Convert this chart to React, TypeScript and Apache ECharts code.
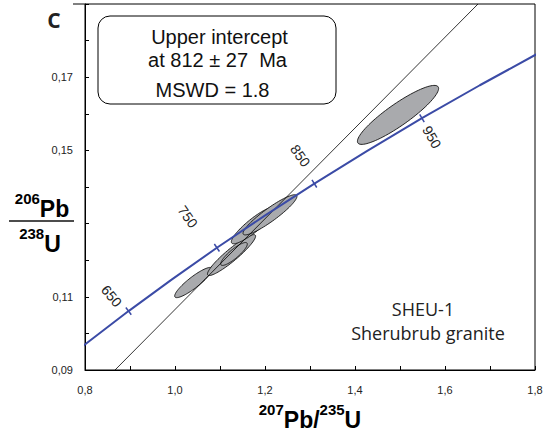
import React, { useEffect, useRef } from 'react';
import * as echarts from 'echarts';

// Concordia curve points (age in Ma, 207Pb/235U, 206Pb/238U)
const CONCORDIA_AGE = [550, 600, 650, 700, 750, 800, 850, 900, 950, 1000, 1050];
const CONCORDIA_X = [0.7189, 0.8056, 0.8968, 0.9925, 1.0931, 1.1987, 1.3097, 1.4263, 1.5488, 1.6774, 1.8126];
const CONCORDIA_Y = [0.0891, 0.0975, 0.1061, 0.1147, 0.1234, 0.1321, 0.1409, 0.1498, 0.1588, 0.1678, 0.1769];

// Age marks along the concordia
const TICK_AGES = [650, 750, 850, 950];
const TICK_LABELS = ['650', '750', '850', '950'];

// Discordia line
const DISCORDIA_X = [0.8667, 1.6733];
const DISCORDIA_Y = [0.09, 0.19];

// Error ellipses: centre, half-extents, correlation
const ELLIPSE_X = [1.0411, 1.1256, 1.1311, 1.1744, 1.2111, 1.4956];
const ELLIPSE_Y = [0.1139, 0.1214, 0.1217, 0.1295, 0.1324, 0.1597];
const ELLIPSE_SX = [0.0418, 0.0535, 0.0296, 0.0492, 0.0599, 0.0902];
const ELLIPSE_SY = [0.00413, 0.00559, 0.00313, 0.00501, 0.00549, 0.00806];
const ELLIPSE_RHO = [0.891, 0.926, 0.866, 0.893, 0.918, 0.895];

// Axis tick labels
const X_LABELS = [0.8, 1.0, 1.2, 1.4, 1.6, 1.8];
const Y_LABELS = [0.09, 0.11, 0.15, 0.17];

// Styles (not data)
const BLUE = '#3b4ba6';
const FONT = '"Liberation Sans", Arial, sans-serif';
const MYRIAD = '"Open Sans", "Noto Sans", sans-serif';
const LABEL_OFFSETS = [[-17, -15], [-29, -31], [-14, -28], [10, 19]];
const LABEL_ROT = [-50, -55, -55, -60];

export default function App() {
  const ref = useRef<HTMLDivElement>(null);

  useEffect(() => {
    if (!ref.current) return;
    const chart = echarts.init(ref.current, null, { renderer: 'svg' });

    const near = (arr: number[], v: number) => arr.some((a) => Math.abs(a - v) < 1e-6);

    const richTitle = {
      s: { fontSize: 15, fontWeight: 'bold', fontFamily: FONT, color: '#111', verticalAlign: 'top' },
      b: { fontSize: 23, fontWeight: 'bold', fontFamily: FONT, color: '#111', lineHeight: 36 },
    };

    const tickPoints = TICK_AGES.map((age) => {
      const ci = CONCORDIA_AGE.indexOf(age);
      return [CONCORDIA_X[ci], CONCORDIA_Y[ci]];
    });

    const option: any = {
      animation: false,
      grid: {
        left: 85,
        right: 13,
        top: 4,
        bottom: 69,
        show: true,
        borderColor: '#000',
        borderWidth: 1,
        backgroundColor: 'transparent',
      },
      xAxis: {
        type: 'value',
        min: 0.8,
        max: 1.8,
        interval: 0.1,
        axisLine: { show: true, lineStyle: { color: '#000', width: 1 } },
        axisTick: { show: true, inside: true, length: 4, lineStyle: { color: '#000' } },
        splitLine: { show: false },
        axisLabel: {
          margin: 14,
          fontSize: 11,
          color: '#222',
          fontFamily: FONT,
          formatter: (v: number) => (near(X_LABELS, v) ? v.toFixed(1).replace('.', ',') : ''),
        },
      },
      yAxis: {
        type: 'value',
        min: 0.09,
        max: 0.19,
        interval: 0.01,
        axisLine: { show: true, lineStyle: { color: '#000', width: 1 } },
        axisTick: { show: true, inside: true, length: 4, lineStyle: { color: '#000' } },
        splitLine: { show: false },
        axisLabel: {
          margin: 12,
          fontSize: 11,
          color: '#222',
          fontFamily: FONT,
          formatter: (v: number) => (near(Y_LABELS, v) ? v.toFixed(2).replace('.', ',') : ''),
        },
      },
      series: [
        {
          type: 'custom',
          name: 'ellipses',
          z: 1,
          data: ELLIPSE_X.map((x, i) => [x, ELLIPSE_Y[i], ELLIPSE_SX[i], ELLIPSE_SY[i], ELLIPSE_RHO[i]]),
          encode: { x: 0, y: 1 },
          renderItem: (params: any, api: any) => {
            const cx = api.value(0);
            const cy = api.value(1);
            const sx = api.value(2);
            const sy = api.value(3);
            const rho = api.value(4);
            const q = Math.sqrt(1 - rho * rho);
            const pts: number[][] = [];
            for (let k = 0; k < 90; k++) {
              const t = (2 * Math.PI * k) / 90;
              const px = cx + sx * Math.cos(t);
              const py = cy + sy * (rho * Math.cos(t) + q * Math.sin(t));
              pts.push(api.coord([px, py]));
            }
            return {
              type: 'polygon',
              shape: { points: pts },
              style: { fill: '#a9aaad', stroke: '#111', lineWidth: 0.9 },
            };
          },
        },
        {
          type: 'line',
          name: 'discordia',
          z: 2,
          data: DISCORDIA_X.map((x, i) => [x, DISCORDIA_Y[i]]),
          symbol: 'none',
          lineStyle: { color: '#000', width: 0.8 },
          clip: true,
        },
        {
          type: 'line',
          name: 'concordia',
          z: 3,
          data: CONCORDIA_X.map((x, i) => [x, CONCORDIA_Y[i]]),
          symbol: 'none',
          smooth: false,
          lineStyle: { color: BLUE, width: 2 },
          clip: true,
        },
        {
          type: 'custom',
          name: 'ages',
          z: 4,
          data: tickPoints,
          encode: { x: 0, y: 1 },
          renderItem: (params: any, api: any) => {
            const idx = params.dataIndex;
            const ci = CONCORDIA_AGE.indexOf(TICK_AGES[idx]);
            const p = api.coord([CONCORDIA_X[ci], CONCORDIA_Y[ci]]);
            const a = api.coord([CONCORDIA_X[ci - 1], CONCORDIA_Y[ci - 1]]);
            const b = api.coord([CONCORDIA_X[ci + 1], CONCORDIA_Y[ci + 1]]);
            let dx = b[0] - a[0];
            let dy = b[1] - a[1];
            const len = Math.hypot(dx, dy);
            dx /= len;
            dy /= len;
            const nx = -dy;
            const ny = dx;
            const h = 4.5;
            const off = LABEL_OFFSETS[idx];
            return {
              type: 'group',
              children: [
                {
                  type: 'line',
                  shape: { x1: p[0] - nx * h, y1: p[1] - ny * h, x2: p[0] + nx * h, y2: p[1] + ny * h },
                  style: { stroke: BLUE, lineWidth: 1.5 },
                },
                {
                  type: 'text',
                  x: p[0] + off[0],
                  y: p[1] + off[1],
                  rotation: (LABEL_ROT[idx] * Math.PI) / 180,
                  style: {
                    text: TICK_LABELS[idx],
                    fontSize: 14,
                    fontFamily: FONT,
                    fill: '#222',
                    align: 'center',
                    verticalAlign: 'middle',
                  },
                },
              ],
            };
          },
        },
      ],
      graphic: [
        {
          type: 'line',
          shape: { x1: 73, y1: 4, x2: 85, y2: 4 },
          style: { stroke: '#000', lineWidth: 1 },
        },
        {
          type: 'text',
          x: 54,
          y: 20,
          style: {
            text: 'C',
            fontSize: 21,
            fontWeight: 'bold',
            fontFamily: MYRIAD,
            fill: '#222',
            align: 'center',
            verticalAlign: 'middle',
          },
        },
        {
          type: 'rect',
          shape: { x: 98, y: 16, width: 238, height: 88, r: 12 },
          style: { fill: '#fff', stroke: '#000', lineWidth: 1 },
          z: 10,
        },
        ...[
          ['Upper intercept', 219.5, 37],
          ['at 812 \u00b1 27  Ma', 217.5, 60],
          ['MSWD = 1.8', 212.5, 90],
        ].map(([t, x, y]) => ({
          type: 'text',
          x,
          y,
          z: 11,
          style: {
            text: t,
            fontSize: 20,
            fontFamily: FONT,
            fill: '#111',
            align: 'center',
            verticalAlign: 'middle',
          },
        })),
        ...[
          ['SHEU-1', 423, 309],
          ['Sherubrub granite', 428, 333],
        ].map(([t, x, y]) => ({
          type: 'text',
          x,
          y,
          style: {
            text: t,
            fontSize: 18,
            fontFamily: MYRIAD,
            fill: '#222',
            align: 'center',
            verticalAlign: 'middle',
          },
        })),
        // Y axis title (fraction)
        {
          type: 'text',
          x: 42,
          y: 209,
          style: {
            text: '{s|206}{b|Pb}',
            rich: richTitle,
            align: 'center',
            verticalAlign: 'middle',
          },
        },
        {
          type: 'line',
          shape: { x1: 9, y1: 221, x2: 74, y2: 221 },
          style: { stroke: '#111', lineWidth: 1.5 },
        },
        {
          type: 'text',
          x: 40,
          y: 244,
          style: {
            text: '{s|238}{b|U}',
            rich: richTitle,
            align: 'center',
            verticalAlign: 'middle',
          },
        },
        // X axis title
        {
          type: 'text',
          x: 310,
          y: 420,
          style: {
            text: '{s|207}{b|Pb/}{s|235}{b|U}',
            rich: richTitle,
            align: 'center',
            verticalAlign: 'middle',
          },
        },
      ],
    };

    chart.setOption(option);
    return () => chart.dispose();
  }, []);

  return (
    <div
      ref={ref}
      style={{ position: 'fixed', left: 0, top: 0, width: 548, height: 439, background: '#fff' }}
    />
  );
}
